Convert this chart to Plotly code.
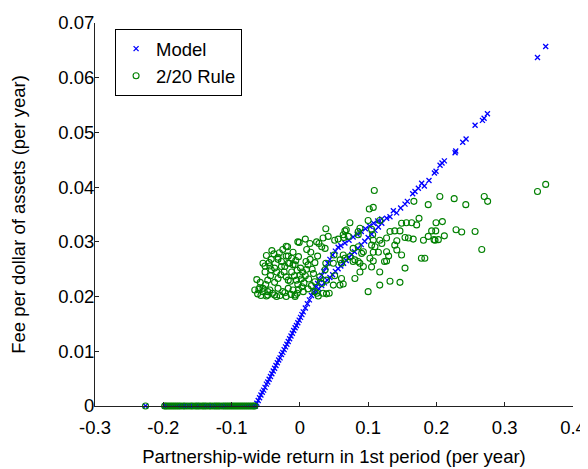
import plotly.graph_objects as go

# ---------------- data ----------------
# returns with zero fee (shared by both series)
zero_x = [-0.226, -0.198, -0.196, -0.193, -0.190, -0.187, -0.184, -0.181, -0.178,
          -0.175, -0.171, -0.168, -0.164, -0.160, -0.157, -0.153, -0.150, -0.147,
          -0.143, -0.140, -0.137, -0.133, -0.130, -0.126, -0.123, -0.120, -0.117,
          -0.113, -0.110, -0.107, -0.104, -0.101, -0.098, -0.095, -0.092, -0.089,
          -0.086, -0.083, -0.080, -0.077, -0.074, -0.071, -0.068, -0.066]
zero_y = [0.0] * len(zero_x)

# Model: steep section
model_steep_x = [-0.065, -0.063, -0.061, -0.059, -0.057, -0.055, -0.053, -0.051, -0.049,
                 -0.047, -0.045, -0.043, -0.041, -0.039, -0.037, -0.035, -0.033, -0.031,
                 -0.029, -0.027, -0.025, -0.023, -0.021, -0.019, -0.017, -0.015, -0.013,
                 -0.011, -0.009, -0.007, -0.005, -0.003, -0.001, 0.001, 0.003, 0.005,
                 0.008, 0.011, 0.014, 0.017, 0.020, 0.023, 0.026, 0.029, 0.032, 0.035,
                 0.038, 0.041, 0.044, 0.048, 0.052, 0.056]
model_steep_y = [0.0000, 0.0005, 0.0010, 0.0015, 0.0020, 0.0025, 0.0029, 0.0034, 0.0040,
                 0.0044, 0.0049, 0.0054, 0.0059, 0.0064, 0.0069, 0.0074, 0.0079, 0.0084,
                 0.0088, 0.0094, 0.0098, 0.0103, 0.0108, 0.0113, 0.0118, 0.0123, 0.0128,
                 0.0133, 0.0138, 0.0143, 0.0147, 0.0152, 0.0157, 0.0162, 0.0167, 0.0172,
                 0.0179, 0.0187, 0.0194, 0.0202, 0.0209, 0.0217, 0.0224, 0.0231, 0.0239, 0.0246,
                 0.0253, 0.0261, 0.0268, 0.0276, 0.0283, 0.0290]
# Model: main upper branch
model_upper_x = [0.024, 0.028, 0.032, 0.036, 0.040, 0.044, 0.048, 0.052, 0.056, 0.060,
                 0.064, 0.068, 0.072, 0.076, 0.080, 0.085, 0.090, 0.095, 0.100, 0.105,
                 0.110, 0.115, 0.120, 0.1271, 0.132, 0.1369, 0.1417, 0.1476, 0.154, 0.1574,
                 0.1652, 0.1686, 0.1735, 0.1784, 0.1823, 0.1891, 0.197, 0.1994, 0.2053,
                 0.2082, 0.2116, 0.2273, 0.2283, 0.2385, 0.2434, 0.2566, 0.2674, 0.2698,
                 0.2747, 0.348, 0.360]
model_upper_y = [0.0209, 0.0214, 0.0220, 0.0225, 0.0230, 0.0235, 0.0240, 0.0246, 0.0251, 0.0256,
                 0.0261, 0.0266, 0.0272, 0.0277, 0.0282, 0.0288, 0.0295, 0.0301, 0.0308, 0.0314,
                 0.0321, 0.0327, 0.0334, 0.0343, 0.0346, 0.0357, 0.0353, 0.0362, 0.0369, 0.0374,
                 0.0388, 0.0392, 0.0398, 0.0407, 0.0402, 0.0412, 0.0426, 0.0429, 0.0440,
                 0.0444, 0.0448, 0.0463, 0.0466, 0.0482, 0.0488, 0.0513, 0.0522, 0.0526,
                 0.0534, 0.0637, 0.0657]
# Model: secondary branch
model_side_x = [0.060, 0.066, 0.072, 0.078, 0.084, 0.090, 0.096, 0.102, 0.108, 0.114, 0.120]
model_side_y = [0.0293, 0.0298, 0.0303, 0.0309, 0.0314, 0.0319, 0.0324, 0.0329, 0.0334, 0.0338, 0.0342]

# 2/20 Rule cloud
rule_x = [0.038, 0.034, 0.066, 0.0645, 0.008, -0.001, 0.028, -0.018, -0.041, 0.010,
          -0.010, 0.016, 0.037, -0.049, -0.032, -0.042, -0.017, -0.002, 0.026, 0.050,
          0.059, -0.054, -0.027, -0.017, -0.010, 0.009, 0.012, 0.038, -0.051, -0.042,
          -0.034, -0.023, -0.012, 0.000, 0.020, 0.029, 0.051, 0.061, -0.063, -0.047,
          -0.032, -0.017, -0.005, 0.006, 0.022, 0.049, -0.066, -0.059, -0.054, -0.047,
          -0.037, -0.032, -0.025, -0.017, -0.007, -0.002, 0.005, 0.025, 0.034, 0.039,
          -0.034, -0.020, -0.060, -0.049, -0.047, -0.054, -0.051, -0.045, -0.038, -0.032,
          -0.027, -0.020, -0.022, -0.015, -0.007, -0.020, -0.003, -0.062, -0.057, -0.044,
          -0.040, -0.029, -0.022, -0.013, -0.010, -0.004, -0.058, -0.050, -0.043, -0.037,
          -0.028, -0.020, -0.014, -0.008, -0.044, -0.037, -0.030, -0.012, -0.006, -0.025,
          -0.003, 0.002, 0.004, 0.001, -0.004, 0.008, 0.010, 0.013, 0.003, 0.012,
          0.017, 0.015, 0.018, 0.022, 0.0855, 0.056, 0.0635, 0.0587, 0.043, 0.027,
          0.022, -0.007, 0.124, 0.105, 0.088, 0.093, 0.0733, 0.078, 0.0855, 0.0905,
          0.066, 0.061, 0.049, 0.037, 0.039, 0.032, 0.0415, 0.051, 0.0635, 0.068,
          0.0147, 0.0245, 0.032, 0.109, 0.1017, 0.1075, 0.188, 0.167, 0.205, 0.0733,
          0.100, 0.117, 0.1745, 0.149, 0.156, 0.1637, 0.171, 0.1994, 0.088, 0.105,
          0.132, 0.139, 0.1466, 0.193, 0.199, 0.071, 0.0855, 0.154, 0.159, 0.188,
          0.181, 0.198, 0.117, 0.127, 0.105, 0.120, 0.139, 0.078, 0.0855, 0.093,
          0.1075, 0.115, 0.127, 0.130, 0.149, 0.178, 0.183, 0.142, 0.0635, 0.0806,
          0.088, 0.1026, 0.1075, 0.127, 0.117, 0.154, 0.0806, 0.117, 0.132, 0.1466,
          0.100, 0.360, 0.348, 0.226, 0.243, 0.270, 0.275, 0.2087, 0.2116, 0.1965,
          0.2028, 0.2287, 0.237, 0.2566, 0.2664, 0.142, 0.110, 0.1075, 0.1066, 0.166]
rule_y = [0.0324, 0.0307, 0.0320, 0.0308, 0.0305, 0.0299, 0.0297, 0.0291, 0.0284, 0.0286,
          0.0281, 0.0281, 0.0288, 0.0275, 0.0272, 0.0268, 0.0274, 0.0273, 0.0274, 0.0276,
          0.0267, 0.0261, 0.0255, 0.0261, 0.0258, 0.0264, 0.0258, 0.0261, 0.0245, 0.0249,
          0.0245, 0.0245, 0.0245, 0.0239, 0.0242, 0.0236, 0.0238, 0.0233, 0.0231, 0.0230,
          0.0233, 0.0230, 0.0230, 0.0225, 0.0227, 0.0221, 0.0212, 0.0216, 0.0209, 0.0203,
          0.0203, 0.0215, 0.0209, 0.0215, 0.0203, 0.0213, 0.0209, 0.0206, 0.0206, 0.0205,
          0.0200, 0.0200, 0.0213, 0.0201, 0.0209, 0.0215, 0.0256, 0.0262, 0.0278, 0.0268,
          0.0264, 0.0274, 0.0255, 0.0261, 0.0258, 0.0292, 0.0300, 0.0205, 0.0202, 0.0212,
          0.0206, 0.0202, 0.0207, 0.0204, 0.0212, 0.0206, 0.0226, 0.0222, 0.0238, 0.0226,
          0.0240, 0.0236, 0.0228, 0.0238, 0.0256, 0.0252, 0.0280, 0.0270, 0.0266, 0.0286,
          0.0222, 0.0232, 0.0245, 0.0252, 0.0248, 0.0238, 0.0250, 0.0232, 0.0218, 0.0214,
          0.0220, 0.0268, 0.0250, 0.0262, 0.0319, 0.0305, 0.0223, 0.0221, 0.0206, 0.0201,
          0.0209, 0.0200, 0.0264, 0.0254, 0.0245, 0.0255, 0.0273, 0.0264, 0.0264, 0.0279,
          0.0270, 0.0261, 0.0261, 0.0249, 0.0230, 0.0224, 0.0310, 0.0303, 0.0313, 0.0322,
          0.0297, 0.0300, 0.0291, 0.0394, 0.0360, 0.0363, 0.0368, 0.0374, 0.0383, 0.0335,
          0.0339, 0.0339, 0.0343, 0.0334, 0.0335, 0.0335, 0.0331, 0.0335, 0.0325, 0.0323,
          0.0319, 0.0320, 0.0320, 0.0320, 0.0320, 0.0310, 0.0313, 0.0308, 0.0307, 0.0310,
          0.0303, 0.0303, 0.0303, 0.0307, 0.0294, 0.0297, 0.0294, 0.0288, 0.0291, 0.0282,
          0.0281, 0.0281, 0.0282, 0.0274, 0.0276, 0.0270, 0.0270, 0.0285, 0.0276, 0.0267,
          0.0261, 0.0270, 0.0265, 0.0265, 0.0245, 0.0252, 0.0233, 0.0221, 0.0228, 0.0226,
          0.0209, 0.0405, 0.0392, 0.0379, 0.0368, 0.0383, 0.0374, 0.0337, 0.0311, 0.0304,
          0.0304, 0.0322, 0.0318, 0.0319, 0.0286, 0.0302, 0.0291, 0.0303, 0.0313, 0.0305]

x_tick_vals = [-0.3, -0.2, -0.1, 0.0, 0.1, 0.2, 0.3, 0.4]
x_tick_text = ["-0.3", "-0.2", "-0.1", "0", "0.1", "0.2", "0.3", "0.4"]
y_tick_vals = [0.0, 0.01, 0.02, 0.03, 0.04, 0.05, 0.06, 0.07]
y_tick_text = ["0", "0.01", "0.02", "0.03", "0.04", "0.05", "0.06", "0.07"]

# ---------------- figure ----------------
FONT = "Liberation Sans, Arial, sans-serif"
model_x = zero_x + model_steep_x + model_upper_x + model_side_x
model_y = zero_y + model_steep_y + model_upper_y + model_side_y
r_x = zero_x + rule_x
r_y = zero_y + rule_y

fig = go.Figure()
fig.add_trace(go.Scatter(
    x=model_x, y=model_y, mode="markers", name="Model", legendrank=1,
    cliponaxis=False,
    marker=dict(symbol="x-thin", size=5, color="#0000ff",
                line=dict(color="#0000ff", width=1.3)),
))
fig.add_trace(go.Scatter(
    x=r_x, y=r_y, mode="markers", name="2/20 Rule", legendrank=2,
    cliponaxis=False,
    marker=dict(symbol="circle-open", size=6, color="#008000",
                line=dict(color="#008000", width=1.1)),
))

axis_common = dict(
    showline=True, linecolor="#222222", linewidth=1, mirror=False,
    ticks="inside", ticklen=4, tickwidth=1, tickcolor="#222222",
    showgrid=False, zeroline=False,
    tickfont=dict(family=FONT, size=18.5, color="black"),
)

fig.update_xaxes(
    range=[-0.3, 0.4], tickmode="array", tickvals=x_tick_vals, ticktext=x_tick_text,
    title=dict(text="Partnership-wide return in 1st period (per year)",
               font=dict(family=FONT, size=18.5, color="black"), standoff=12),
    ticklabelstandoff=5,
    **axis_common,
)
fig.update_yaxes(
    range=[0, 0.07], tickmode="array", tickvals=y_tick_vals, ticktext=y_tick_text,
    title=dict(text="Fee per dollar of assets (per year)",
               font=dict(family=FONT, size=18.5, color="black"), standoff=28),
    ticklabelstandoff=-4,
    **axis_common,
)

fig.update_layout(
    width=580, height=461,
    margin=dict(l=87, r=15, t=15, b=63, autoexpand=False),
    paper_bgcolor="white", plot_bgcolor="white",
    font=dict(family=FONT, size=18.5, color="black"),
    showlegend=True,
    legend=dict(x=0.042, y=0.984, xanchor="left", yanchor="top",
                bordercolor="black", borderwidth=1, bgcolor="white",
                font=dict(family=FONT, size=18.5, color="black"),
                itemwidth=30, tracegroupgap=0),
)

fig.write_html("out.html")
